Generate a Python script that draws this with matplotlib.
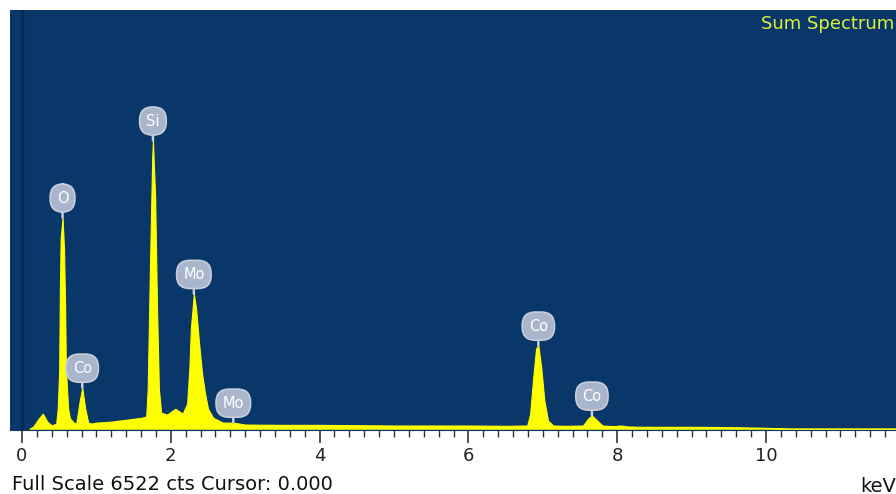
import matplotlib as mpl
mpl.use('Agg')
import matplotlib.pyplot as plt
import numpy as np

# spectrum outline (keV, counts)
energy = [0.10, 0.15, 0.22, 0.28, 0.34, 0.40, 0.46, 0.48, 0.50, 0.51, 0.52, 0.545,
          0.565, 0.58, 0.59, 0.62, 0.645, 0.70, 0.73, 0.77, 0.81, 0.85, 0.89, 0.94,
          1.00, 1.20, 1.40, 1.60, 1.67, 1.69, 1.72, 1.75, 1.76, 1.79, 1.815, 1.84,
          1.87, 1.95, 2.06, 2.16, 2.22, 2.25, 2.27, 2.31, 2.34, 2.38, 2.42, 2.46,
          2.50, 2.57, 2.70, 2.84, 3.00, 3.50, 4.00, 5.00, 6.00, 6.50, 6.79, 6.83,
          6.87, 6.91, 6.94, 6.98, 7.02, 7.07, 7.14, 7.30, 7.54, 7.61, 7.66, 7.72,
          7.80, 7.95, 8.05, 8.15, 8.30, 9.00, 9.50, 10.0, 10.3, 11.8]
counts = [0, 30, 150, 235, 110, 50, 80, 300, 900, 2200, 2960, 3290,
          2800, 1870, 940, 310, 160, 90, 80, 390, 640, 310, 95, 80,
          95, 110, 140, 170, 190, 620, 2500, 4210, 4490, 3590, 1870, 620,
          250, 220, 310, 235, 390, 940, 1560, 2100, 1870, 1330, 860, 550,
          310, 170, 95, 95, 65, 60, 60, 50, 50, 45, 50, 230,
          780, 1250, 1295, 940, 440, 125, 50, 45, 50, 160, 205, 140,
          50, 40, 50, 35, 30, 30, 25, 15, 0, 0]

# peak labels
peak_names = ['O', 'Co', 'Si', 'Mo', 'Mo', 'Co', 'Co']
peak_kev = [0.545, 0.81, 1.76, 2.31, 2.84, 6.94, 7.66]

full_scale = 6522
x_ticks = [0, 2, 4, 6, 8, 10]

fig = plt.figure(figsize=(8.96, 4.94), dpi=100)
fig.patch.set_facecolor('white')
ax = fig.add_axes([10/896, 64/494, 886/896, 420/494])
ax.set_facecolor('#0a3769')

ax.fill_between(energy, 0, counts, color='#ffff00', lw=0.8, edgecolor='#ffff00')
ax.axvline(0, color='#072a52', lw=2.5, zorder=1)

ax.set_xlim(-0.161, 11.747)
ax.set_ylim(-20, full_scale)

for name, e in zip(peak_names, peak_kev):
    h = np.interp(e, energy, counts)
    ax.annotate(name, xy=(e, h), xytext=(0, 14), textcoords='offset points',
                ha='center', va='center', color='white', fontsize=10.5,
                family='DejaVu Sans',
                bbox=dict(boxstyle='round,pad=0.45,rounding_size=0.9',
                          fc='#a9b5ca', ec='#c6cddb', lw=1.2),
                arrowprops=dict(arrowstyle='-', color='#c6cddb', lw=1.8,
                                shrinkA=0, shrinkB=0))

ax.set_xticks(x_ticks)
ax.set_xticks(np.arange(0, 11.8, 0.2), minor=True)
ax.set_yticks([])
ax.tick_params(axis='x', which='major', length=9, width=1.2, color='#333333',
               labelsize=13, pad=3, labelcolor='#222222')
ax.tick_params(axis='x', which='minor', length=5, width=1, color='#333333')
for lab in ax.get_xticklabels():
    lab.set_family('DejaVu Sans')
for s in ['top', 'left', 'right']:
    ax.spines[s].set_visible(False)
ax.spines['bottom'].set_color('#0a3769')

ax.text(0.998, 0.967, 'Sum Spectrum', transform=ax.transAxes, ha='right', va='center',
        color='#dcf03c', fontsize=13, family='DejaVu Sans')
fig.text(12/896, 1 - 484/494, 'Full Scale %d cts Cursor: 0.000' % full_scale,
         ha='left', va='center', fontsize=14, color='#111111', family='DejaVu Sans')
fig.text(1.0, 1 - 486/494, 'keV', ha='right', va='center', fontsize=14,
         color='#111111', family='DejaVu Sans')

plt.savefig('out.png', dpi=100)
